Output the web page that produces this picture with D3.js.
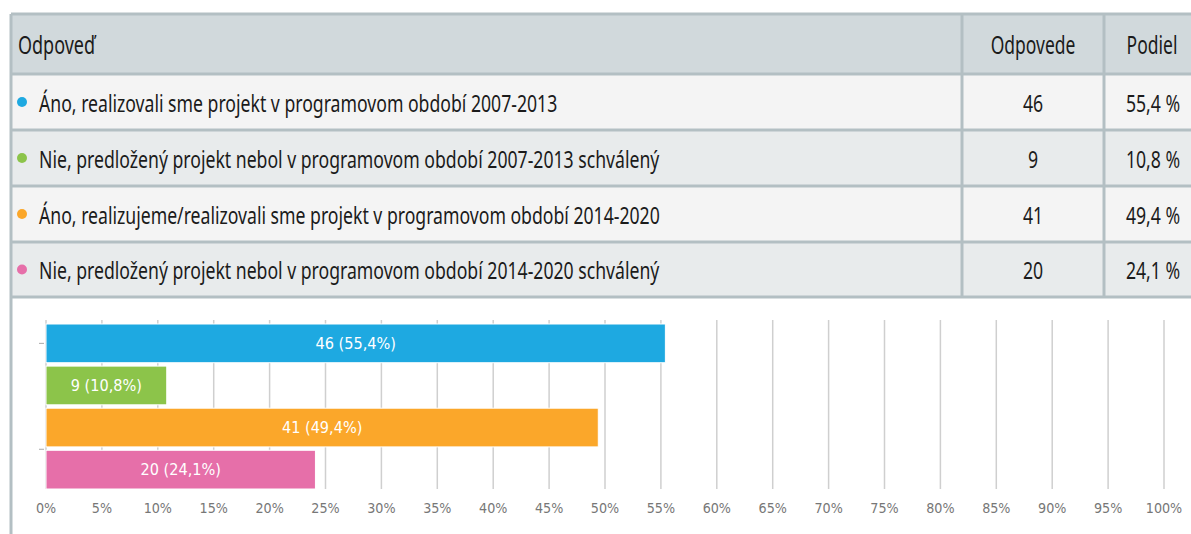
<!DOCTYPE html>
<html>
<head>
<meta charset="utf-8">
<script src="https://cdn.jsdelivr.net/npm/d3@7"></script>
<style>
  html, body { margin: 0; padding: 0; background: #fff; }
  svg { display: block; }
  .txt { font-family: "Noto Sans", "Open Sans", sans-serif; fill: #1b1b1b; }
</style>
</head>
<body>
<svg id="chart" width="1191" height="534"></svg>
<script>
// data
const answers = [
  "Áno, realizovali sme projekt v programovom období 2007-2013",
  "Nie, predložený projekt nebol v programovom období 2007-2013 schválený",
  "Áno, realizujeme/realizovali sme projekt v programovom období 2014-2020",
  "Nie, predložený projekt nebol v programovom období 2014-2020 schválený"
]
const counts = [46, 9, 41, 20]
const shares = [55.4, 10.8, 49.4, 24.1]
const colors = ["#1ea9e1", "#8cc44a", "#fba72a", "#e66fa9"]
const headers = ["Odpoveď", "Odpovede", "Podiel"]
const ticks = [0, 5, 10, 15, 20, 25, 30, 35, 40, 45, 50, 55, 60, 65, 70, 75, 80, 85, 90, 95, 100]

const fmt = v => String(v).replace(".", ",")

const svg = d3.select("#chart")
const borderCol = "#b3bfc3"
const squeeze = 0.735

// text is drawn horizontally squeezed to mimic the narrow font
function addText(g, x, y, str, size, anchor, sx){
  g.append("g")
    .attr("transform", "translate(" + x + "," + y + ") scale(" + sx + ",1)")
    .append("text")
    .attr("class", "txt")
    .attr("text-anchor", anchor)
    .attr("dominant-baseline", "central")
    .style("font-size", size + "px")
    .text(str)
}

// ---- table ----
const colX = [11, 962, 1104, 1200]
const rowY = [14, 74, 130, 186, 242, 297]
const table = svg.append("g")

table.append("rect")
  .attr("x", colX[0]).attr("y", rowY[0])
  .attr("width", colX[3] - colX[0]).attr("height", rowY[1] - rowY[0])
  .attr("fill", "#d1d9dc")

answers.forEach((a, i) => {
  table.append("rect")
    .attr("x", colX[0]).attr("y", rowY[i + 1])
    .attr("width", colX[3] - colX[0]).attr("height", rowY[i + 2] - rowY[i + 1])
    .attr("fill", i % 2 === 0 ? "#f4f4f4" : "#e8ebec")
})

rowY.forEach(y => {
  table.append("line")
    .attr("x1", colX[0]).attr("x2", colX[3])
    .attr("y1", y).attr("y2", y)
    .attr("stroke", borderCol).attr("stroke-width", 3)
})
colX.slice(0, 3).forEach(x => {
  table.append("line")
    .attr("x1", x).attr("x2", x)
    .attr("y1", rowY[0]).attr("y2", rowY[5])
    .attr("stroke", borderCol).attr("stroke-width", 3)
})
// left border keeps going past the table, round the chart
table.append("line")
  .attr("x1", colX[0]).attr("x2", colX[0])
  .attr("y1", rowY[5]).attr("y2", 534)
  .attr("stroke", borderCol).attr("stroke-width", 3)

const headY = (rowY[0] + rowY[1]) / 2
addText(table, 18, headY, headers[0], 25, "start", 0.72)
addText(table, (colX[1] + colX[2]) / 2, headY, headers[1], 25, "middle", 0.7)
addText(table, 1152, headY, headers[2], 25, "middle", 0.7)

answers.forEach((a, i) => {
  const cy = (rowY[i + 1] + rowY[i + 2]) / 2
  table.append("circle")
    .attr("cx", 22).attr("cy", cy).attr("r", 5)
    .attr("fill", colors[i])
  addText(table, 39, cy, a, 24, "start", squeeze)
  addText(table, (colX[1] + colX[2]) / 2, cy, counts[i], 24, "middle", squeeze)
  addText(table, 1153, cy, fmt(shares[i]) + " %", 24, "middle", squeeze)
})

// ---- bar chart ----
const x = d3.scaleLinear().domain([0, 100]).range([46, 1164])
const y = d3.scaleBand().domain(answers).range([324, 489]).paddingInner(0.08)

const chart = svg.append("g")

chart.selectAll(".grid").data(ticks).enter().append("line")
  .attr("class", "grid")
  .attr("x1", d => x(d)).attr("x2", d => x(d))
  .attr("y1", 320).attr("y2", 489)
  .attr("stroke", "#cfcfcf").attr("stroke-width", 1.5)

chart.selectAll(".bar").data(answers).enter().append("rect")
  .attr("class", "bar")
  .attr("x", x(0))
  .attr("y", d => y(d))
  .attr("width", (d, i) => x(shares[i]) - x(0))
  .attr("height", y.bandwidth())
  .attr("fill", (d, i) => colors[i])
  .attr("stroke", "#fff").attr("stroke-width", 1)

answers.forEach((a, i) => {
  chart.append("g")
    .attr("transform", "translate(" + (x(0) + x(shares[i])) / 2 + "," + (y(a) + y.bandwidth() / 2) + ") scale(0.88,1)")
    .append("text")
    .attr("text-anchor", "middle")
    .attr("dominant-baseline", "central")
    .style("font-family", "'DejaVu Sans', sans-serif")
    .style("font-size", "16.5px")
    .attr("fill", "#fff")
    .text(counts[i] + " (" + fmt(shares[i]) + "%)")
})

// the two small category ticks on the left
const catTicks = [y(answers[0]) + y.bandwidth() / 2, y(answers[3]) - 1]
chart.selectAll(".cat").data(catTicks).enter().append("line")
  .attr("x1", 39).attr("x2", 44)
  .attr("y1", d => d).attr("y2", d => d)
  .attr("stroke", "#aaa").attr("stroke-width", 1)

chart.selectAll(".tick-label").data(ticks).enter().append("g")
  .attr("transform", d => "translate(" + x(d) + ",508) scale(0.88,1)")
  .append("text")
  .attr("text-anchor", "middle")
  .attr("dominant-baseline", "central")
  .style("font-family", "'DejaVu Sans', sans-serif")
  .style("font-size", "14.5px")
  .attr("fill", "#777")
  .text(d => d + "%")
</script>
</body>
</html>
